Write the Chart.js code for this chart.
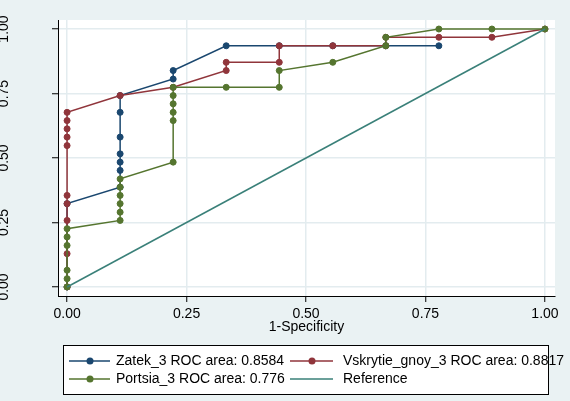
<!DOCTYPE html>
<html>
<head>
<meta charset="utf-8">
<title>ROC</title>
<script src="https://cdn.jsdelivr.net/npm/chart.js@4"></script>
<style>
  body { margin: 0; background: #eaf2f3; }
  #wrap { width: 570px; height: 401px; position: relative; }
</style>
</head>
<body>
<div id="wrap"><canvas id="roc"></canvas></div>
<script>
// ejes
const tickValues = [0, 0.25, 0.5, 0.75, 1];
const tickLabels = ['0.00', '0.25', '0.50', '0.75', '1.00'];

// Zatek_3
const zatekX = [0, 0, 0.111, 0.111, 0.111, 0.111, 0.111, 0.111, 0.111, 0.222, 0.222, 0.333, 0.444, 0.556, 0.667, 0.778];
const zatekY = [0, 0.323, 0.387, 0.452, 0.484, 0.516, 0.581, 0.677, 0.742, 0.806, 0.839, 0.935, 0.935, 0.935, 0.935, 0.935];

// Vskrytie_gnoy_3
const vskX = [0, 0, 0, 0, 0, 0, 0, 0, 0, 0, 0.111, 0.222, 0.333, 0.333, 0.444, 0.444, 0.556, 0.667, 0.667, 0.778, 0.889, 1];
const vskY = [0, 0.129, 0.258, 0.323, 0.355, 0.548, 0.581, 0.613, 0.645, 0.677, 0.742, 0.774, 0.839, 0.871, 0.871, 0.935, 0.935, 0.935, 0.968, 0.968, 0.968, 1];

// Portsia_3
const portX = [0, 0, 0, 0, 0, 0, 0.111, 0.111, 0.111, 0.111, 0.111, 0.111, 0.222, 0.222, 0.222, 0.222, 0.222, 0.222, 0.333, 0.444, 0.444, 0.556, 0.667, 0.667, 0.778, 0.889, 1];
const portY = [0, 0.032, 0.065, 0.161, 0.194, 0.226, 0.258, 0.290, 0.323, 0.355, 0.387, 0.419, 0.484, 0.645, 0.677, 0.710, 0.742, 0.774, 0.774, 0.774, 0.839, 0.871, 0.935, 0.968, 1, 1, 1];

// Reference
const refX = [0, 1];
const refY = [0, 1];

const seriesLabels = ['Zatek_3 ROC area: 0.8584', 'Vskrytie_gnoy_3 ROC area: 0.8817', 'Portsia_3 ROC area: 0.776', 'Reference'];

const FONT = "'Liberation Sans', Arial, sans-serif";
const toPts = (xs, ys) => xs.map((x, i) => ({ x: x, y: ys[i] }));

function serie(label, xs, ys, color, order, marks) {
  return {
    label: label,
    data: toPts(xs, ys),
    showLine: true,
    borderColor: color,
    backgroundColor: color,
    borderWidth: 1.5,
    pointRadius: marks ? 3 : 0,
    pointBorderWidth: 1,
    pointBackgroundColor: color,
    pointBorderColor: color,
    tension: 0,
    order: order
  };
}

// fondo blanco del área de trazado
const plotBg = {
  id: 'plotBg',
  beforeDraw(chart) {
    const { ctx, chartArea: a } = chart;
    ctx.save();
    ctx.fillStyle = '#ffffff';
    ctx.fillRect(a.left, a.top, a.right - a.left, a.bottom - a.top);
    ctx.restore();
  }
};

// etiquetas del eje Y giradas
const yLabels = {
  id: 'yLabels',
  afterDraw(chart) {
    const { ctx } = chart;
    const y = chart.scales.y;
    ctx.save();
    ctx.fillStyle = '#000';
    ctx.font = '14px ' + FONT;
    ctx.textAlign = 'center';
    ctx.textBaseline = 'alphabetic';
    tickValues.forEach((v, i) => {
      ctx.save();
      ctx.translate(7.5, y.getPixelForValue(v));
      ctx.rotate(-Math.PI / 2);
      ctx.fillText(tickLabels[i], 0, 0);
      ctx.restore();
    });
    ctx.restore();
  }
};

// leyenda estilo Stata
const stataLegend = {
  id: 'stataLegend',
  afterDraw(chart) {
    const { ctx } = chart;
    const ds = chart.data.datasets;
    ctx.save();
    ctx.fillStyle = '#fff';
    ctx.fillRect(63.5, 345.5, 485, 49);
    ctx.strokeStyle = '#000';
    ctx.lineWidth = 1;
    ctx.strokeRect(63.5, 345.5, 485, 49);

    const cols = [{ l0: 69, l1: 110, m: 90, t: 116 }, { l0: 290, l1: 333, m: 312, t: 343 }];
    const rows = [361, 379];
    ctx.font = '14px ' + FONT;
    ctx.textBaseline = 'middle';
    ds.forEach((d, i) => {
      const c = cols[i % 2];
      const r = rows[Math.floor(i / 2)];
      ctx.strokeStyle = d.borderColor;
      ctx.lineWidth = 1.5;
      ctx.beginPath();
      ctx.moveTo(c.l0, r);
      ctx.lineTo(c.l1, r);
      ctx.stroke();
      if (d.pointRadius > 0) {
        ctx.fillStyle = d.borderColor;
        ctx.beginPath();
        ctx.arc(c.m, r, 3.5, 0, Math.PI * 2);
        ctx.fill();
      }
      ctx.fillStyle = '#000';
      ctx.fillText(d.label, c.t, r + 0.5);
    });
    ctx.restore();
  }
};

const ctx = document.getElementById('roc').getContext('2d');
new Chart(ctx, {
  type: 'scatter',
  data: {
    datasets: [
      serie(seriesLabels[0], zatekX, zatekY, '#1a476f', 4, true),
      serie(seriesLabels[1], vskX, vskY, '#90353b', 3, true),
      serie(seriesLabels[2], portX, portY, '#55752f', 2, true),
      serie(seriesLabels[3], refX, refY, '#3a8079', 1, false)
    ]
  },
  options: {
    responsive: true,
    maintainAspectRatio: false,
    animation: false,
    layout: { padding: { top: 20, right: 15, bottom: 61, left: 0 } },
    plugins: {
      legend: { display: false },
      tooltip: { enabled: false }
    },
    scales: {
      x: {
        type: 'linear',
        min: -0.019,
        max: 1.021,
        afterBuildTicks: s => { s.ticks = tickValues.map(v => ({ value: v })); },
        afterFit: s => { s.height = 44; },
        ticks: {
          color: '#000',
          font: { family: FONT, size: 14 },
          padding: 4,
          maxRotation: 0,
          callback: (v) => tickLabels[tickValues.indexOf(v)]
        },
        grid: { color: '#e3ecef', lineWidth: 1.5, tickColor: '#000', tickWidth: 1, tickLength: 6 },
        border: { display: true, color: '#000', width: 1 },
        title: {
          display: true,
          text: '1-Specificity',
          color: '#000',
          font: { family: FONT, size: 14 },
          padding: { top: 0, bottom: 4 }
        }
      },
      y: {
        type: 'linear',
        min: -0.035,
        max: 1.035,
        afterBuildTicks: s => { s.ticks = tickValues.map(v => ({ value: v })); },
        afterFit: s => { s.width = 58; },
        ticks: { display: false },
        grid: { color: '#e3ecef', lineWidth: 1.5, tickColor: '#000', tickWidth: 1, tickLength: 6 },
        border: { display: true, color: '#000', width: 1 }
      }
    }
  },
  plugins: [plotBg, yLabels, stataLegend]
});
</script>
</body>
</html>
